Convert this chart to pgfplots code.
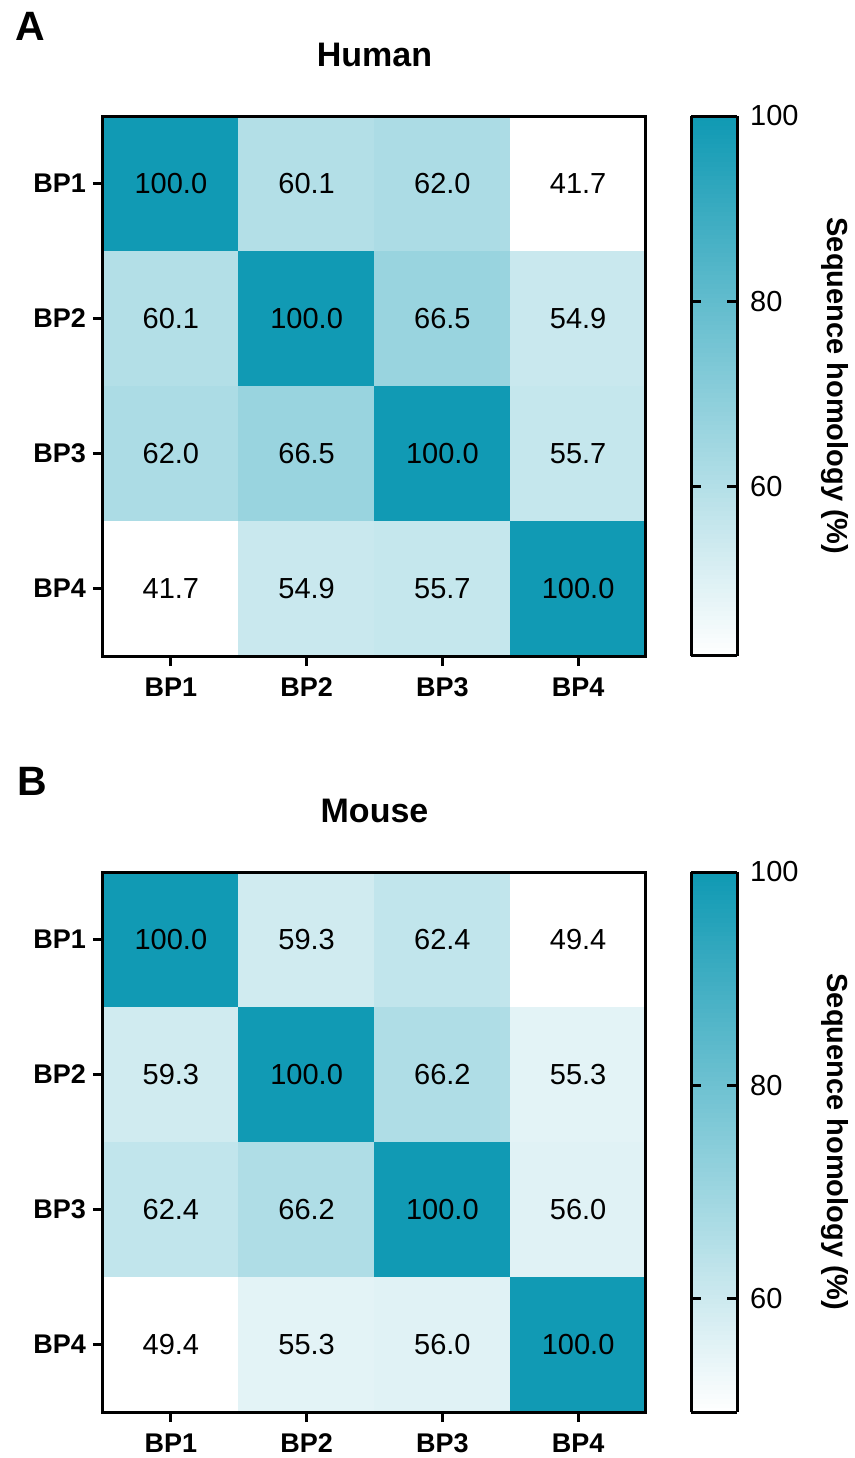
\documentclass[border=0pt]{standalone}
\usepackage{pgfplots}
\pgfplotsset{compat=1.18}
\usepackage{fontspec}
\setmainfont{Liberation Sans}
\pgfplotsset{
  /pgf/number format/assume math mode=true,
  hm/.style={
    scale only axis, width=271.5pt, height=270pt,
    xmin=-0.5, xmax=3.5, ymin=-0.5, ymax=3.5, y dir=reverse,
    xtick={0,1,2,3}, ytick={0,1,2,3},
    xticklabels={BP1,BP2,BP3,BP4}, yticklabels={BP1,BP2,BP3,BP4},
    xtick pos=bottom, ytick pos=left, tick align=outside,
    major tick length=5pt,
    every tick/.append style={black, line width=1.5pt},
    tick label style={font=\fontsize{13.5}{16}\selectfont\bfseries},
    xticklabel style={yshift=-2.5pt},
    axis line style={line width=1.5pt},
    axis on top,
    colormap={tealmap}{rgb255=(255,255,255) rgb255=(17,154,180)},
    colorbar sampled,
    colorbar style={
      samples=120,
      at={(parent axis.north east)}, anchor=north west, xshift=14pt,
      width=23pt,
      ytick={60,80,100},
      yticklabel pos=right, ytick pos=both,
      tick align=inside, major tick length=5pt,
      every tick/.append style={black, line width=1.5pt},
      yticklabel style={font=\fontsize{14.5}{17}\selectfont, xshift=3pt},
      axis line style={line width=1.5pt},
      axis on top,
    },
    nodes near coords={\pgfmathprintnumber[fixed,fixed zerofill,precision=1]{\pgfplotspointmeta}},
    every node near coord/.append style={anchor=center, text=black, font=\fontsize{14.5}{17}\selectfont},
  }
}
\begin{document}
\begin{tikzpicture}
\useasboundingbox (-51.5pt,-401pt) rectangle (376pt,328pt);
% Human
\begin{axis}[hm, at={(0pt,0pt)}, anchor=south west, point meta min=41.7, point meta max=100]
\addplot[matrix plot*, mesh/cols=4, point meta=explicit] table[meta=c] {
x y c
0 0 100.0
1 0 60.1
2 0 62.0
3 0 41.7
0 1 60.1
1 1 100.0
2 1 66.5
3 1 54.9
0 2 62.0
1 2 66.5
2 2 100.0
3 2 55.7
0 3 41.7
1 3 54.9
2 3 55.7
3 3 100.0
};
\end{axis}
% Mouse
\begin{axis}[hm, at={(0pt,-378pt)}, anchor=south west, point meta min=49.4, point meta max=100]
\addplot[matrix plot*, mesh/cols=4, point meta=explicit] table[meta=c] {
x y c
0 0 100.0
1 0 59.3
2 0 62.4
3 0 49.4
0 1 59.3
1 1 100.0
2 1 66.2
3 1 55.3
0 2 62.4
1 2 66.2
2 2 100.0
3 2 56.0
0 3 49.4
1 3 55.3
2 3 56.0
3 3 100.0
};
\end{axis}
% labels
\node[anchor=base west, font=\fontsize{20.5}{24}\selectfont\bfseries] at (-47.5pt,308pt) {A};
\node[anchor=base, font=\fontsize{17}{20}\selectfont\bfseries] at (135.75pt,294.5pt) {Human};
\node[rotate=-90, font=\fontsize{14.5}{17}\selectfont\bfseries] at (366pt,135pt) {Sequence homology (\%)};
\node[anchor=base west, font=\fontsize{20.5}{24}\selectfont\bfseries] at (-46.5pt,-69.5pt) {B};
\node[anchor=base, font=\fontsize{17}{20}\selectfont\bfseries] at (135.75pt,-83pt) {Mouse};
\node[rotate=-90, font=\fontsize{14.5}{17}\selectfont\bfseries] at (366pt,-243pt) {Sequence homology (\%)};
\end{tikzpicture}
\end{document}
